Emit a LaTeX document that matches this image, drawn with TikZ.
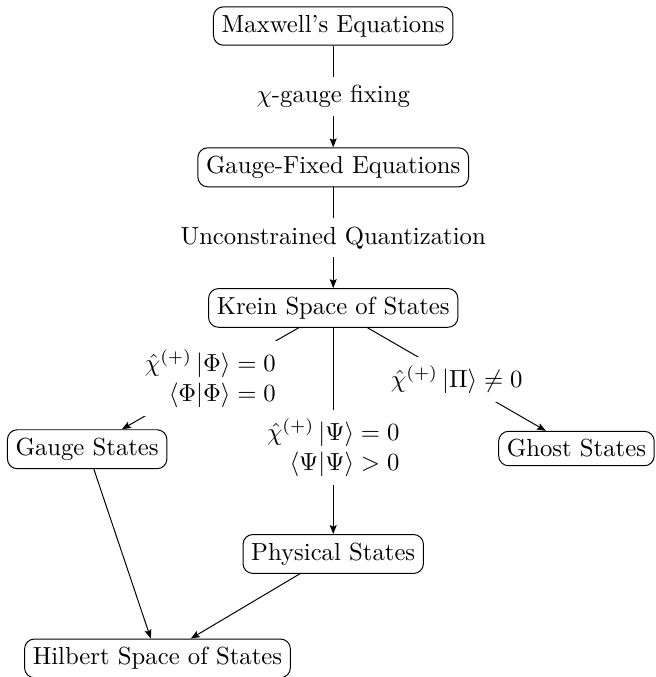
\documentclass[tikz,border=0pt]{standalone}
\usepackage{amsmath}
\usepackage{amssymb}
\usetikzlibrary{arrows.meta}

\begin{document}
\begin{tikzpicture}[
state/.style={draw, rounded corners, inner sep=3.33pt},
cond/.style={fill=white, align=right},
]

\useasboundingbox (0,0) rectangle (9.32,-9.63);

% states
\node[state] (maxwell) at (4.74,-0.37) {Maxwell's Equations};
\node[state] (fixed) at (4.74,-2.38) {Gauge-Fixed Equations};
\node[state] (krein) at (4.74,-4.38) {Krein Space of States};
\node[state] (gauge) at (1.24,-6.39) {Gauge States};
\node[state] (ghost) at (8.20,-6.38) {Ghost States};
\node[state] (phys) at (4.74,-7.88) {Physical States};
\node[state] (hilbert) at (2.24,-9.365) {Hilbert Space of States};

% quantization
\begin{scope}[-{Stealth[length=3.6pt, width=2.8pt, inset=0.6pt]}]
\draw (maxwell) -- node[cond] {\(\chi\)-gauge fixing} (fixed) ;
\draw (fixed) -- node[cond] {Unconstrained Quantization} (krein) ;
\end{scope}

% conditions
\begin{scope}[-{Stealth[length=3.6pt, width=2.8pt, inset=0.6pt]}]
\draw (krein) -- node[cond]
{\(\hat{\chi}^{(+)}\left|\Phi\right\rangle = 0\)\\\(\langle\Phi|\Phi\rangle = 0\)}
(gauge) ;
\draw (krein) -- node[cond, pos=0.58]
{\(\hat{\chi}^{(+)}\left|\Psi\right\rangle = 0\)\\\(\langle\Psi|\Psi\rangle > 0\)}
(phys) ;
\draw (krein) -- node[cond]
{\(\hat{\chi}^{(+)}\left|\Pi\right\rangle \neq 0\)}
(ghost) ;
\draw (gauge) -- (hilbert) ;
\draw (phys) -- (hilbert) ;
\end{scope}

\end{tikzpicture}
\end{document}
